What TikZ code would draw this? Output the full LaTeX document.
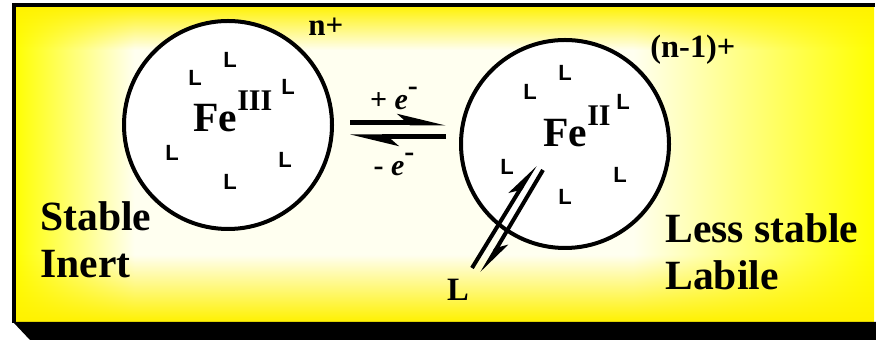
\documentclass[tikz,border=0pt]{standalone}
\usepackage{fontspec}
\setmainfont{Liberation Serif}
\setsansfont{Liberation Sans}
\usetikzlibrary{arrows.meta, positioning, fadings}
\pgfdeclarehorizontalshading{hband}{100bp}{color(0bp)=(yellow); color(25bp)=(yellow); color(32bp)=(white!94!yellow); color(61bp)=(white!94!yellow); color(75bp)=(yellow); color(100bp)=(yellow)}
\tikzfading[name=fadetop, top color=transparent!0, bottom color=transparent!100]
\tikzfading[name=fadebottom, top color=transparent!100, bottom color=transparent!0]
\tikzset{
  every picture/.style={x=0.5pt, y=-0.5pt},
  ion/.style={circle, draw=black, line width=2pt, fill=white, minimum size=104pt, inner sep=0pt},
  lig/.style={font=\sffamily\bfseries\fontsize{11}{11}\selectfont, inner sep=0pt},
  big/.style={font=\bfseries\fontsize{20.8}{23.5}\selectfont, inner sep=0pt, align=left},
  charge/.style={font=\bfseries\fontsize{15.5}{15.5}\selectfont, inner sep=0pt},
  elabel/.style={font=\bfseries\fontsize{15}{15}\selectfont, inner sep=0pt},
  redox/.style={line width=2.5pt, -{Stealth[harpoon, length=19pt, width=9pt, inset=5pt]}},
  ligarrow/.style={line width=2pt, -{Stealth[harpoon, length=15pt, width=8pt, inset=4pt]}},
}
\newcommand{\feion}[1]{Fe\raisebox{10.5pt}{\fontsize{15}{15}\selectfont #1}}

\begin{document}
\begin{tikzpicture}
  \useasboundingbox (0,0) rectangle (876,340);
  % background panel with shadow
  \shade[shading=hband] (14,5) rectangle (874,322);
  \fill[yellow, path fading=fadetop] (14,5) rectangle (874,50);
  \fill[yellow, path fading=fadebottom] (14,255) rectangle (874,322);
  \fill[black] (13,322) -- (876,322) -- (876,340) -- (30,340) -- cycle;
  \draw[line width=2pt] (12,5) -- (875,5);
  \draw[line width=2.2pt] (14,3) -- (14,323);
  % the two complexes
  \node[ion] (fe3) at (228,125) {};
  \node[ion] (fe2) at (565,144) {};
  \node[big, anchor=base west] (fe3lbl) at (193,132) {\feion{III}};
  \node[big, anchor=base west] (fe2lbl) at (543,147) {\feion{II}};
  \foreach \x/\y [count=\i] in {230/60, 195/78, 288/87, 172/153, 285/160, 230/182}
    \node[lig] (la\i) at (\x,\y) {L};
  \foreach \x/\y [count=\i] in {565/73, 530/92, 623/102, 507/167, 620/175, 565/197}
    \node[lig] (lb\i) at (\x,\y) {L};
  \node[charge, anchor=base west] (chg3) at (308,36) {n+};
  \node[charge, anchor=base west, font=\bfseries\fontsize{16.2}{16.2}\selectfont] (chg2) at (650,58) {(n-1)+};
  % redox equilibrium
  \coordinate (rl) at (350,123); \coordinate (rr) at (446,123);
  \coordinate (ol) at (350,137); \coordinate (or) at (446,137);
  \draw[redox] (rl) -- (rr);
  \draw[redox] (or) -- (ol);
  \node[elabel, anchor=base] (red) at (394,110) {+ \textit{e}\raisebox{7pt}{-}};
  \node[elabel, anchor=base] (ox) at (394,176) {- \textit{e}\raisebox{7pt}{-}};
  % ligand exchange
  \node[font=\bfseries\fontsize{16.3}{16.3}\selectfont, inner sep=0pt] (lfree) at (458,290) {L};
  \coordinate (inA) at (472,268); \coordinate (inB) at (535,165);
  \coordinate (outA) at (543,170); \coordinate (outB) at (482,273);
  \draw[ligarrow] (inA) -- (inB);
  \draw[ligarrow] (outA) -- (outB);
  % stability labels
  \node[big, anchor=base west] (stab) at (40,278) {Stable\\Inert};
  \node[big, anchor=base west] (lab) at (665,290) {Less stable\\Labile};
\end{tikzpicture}
\end{document}
